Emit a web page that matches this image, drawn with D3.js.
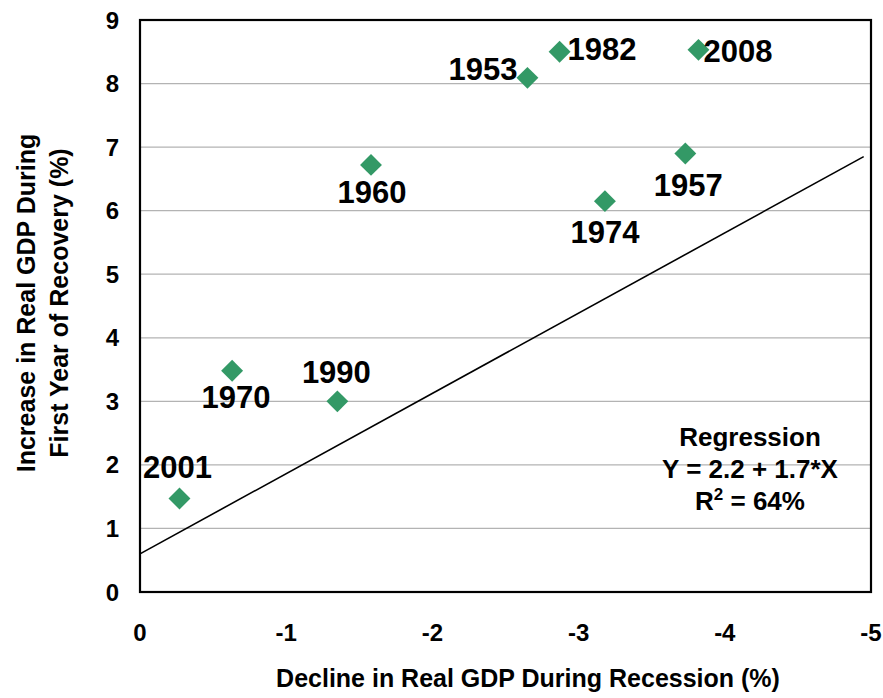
<!DOCTYPE html>
<html><head><meta charset="utf-8">
<script src="https://cdn.jsdelivr.net/npm/d3@7"></script>
<style>body{margin:0;background:#fff}svg{font-family:"Liberation Sans",Arial,sans-serif;font-weight:bold}</style>
</head><body>
<svg id="c" width="883" height="698"></svg>
<script>
const years = ["2001","1970","1990","1960","1953","1982","1974","1957","2008"];
const declines = [-0.27,-0.63,-1.35,-1.58,-2.65,-2.87,-3.18,-3.73,-3.82];
const increases = [1.47,3.48,3.0,6.72,8.09,8.5,6.15,6.90,8.53];
const xTicks = [0,-1,-2,-3,-4,-5];
const yTicks = [0,1,2,3,4,5,6,7,8,9];
const fitLineX = [0,-4.95];
const fitLineY = [0.6,6.85];
const regressionText = ["Regression","Y = 2.2 + 1.7*X"];
// label offsets (styling)
const labelOffsets = {"2001":[-2,-21,"middle"],"1970":[4,37,"middle"],"1990":[-1,-18,"middle"],"1960":[1,38,"middle"],
  "1953":[-10,2,"end"],"1982":[8,8,"start"],"1974":[0,42,"middle"],"1957":[3,43,"middle"],"2008":[5,12,"start"]};

const svg = d3.select("#c");
const m = {l:140,t:20,r:871,b:592};
const x = d3.scaleLinear().domain([0,-5]).range([m.l,m.r]);
const y = d3.scaleLinear().domain([0,9]).range([m.b,m.t]);

svg.append("g").selectAll("line").data(yTicks.slice(1,-1)).join("line")
  .attr("x1",m.l).attr("x2",m.r).attr("y1",d=>y(d)).attr("y2",d=>y(d))
  .attr("stroke","#b3b3b3").attr("stroke-width",1.3);

svg.append("line").attr("x1",x(fitLineX[0])).attr("y1",y(fitLineY[0]))
  .attr("x2",x(fitLineX[1])).attr("y2",y(fitLineY[1])).attr("stroke","#000").attr("stroke-width",1.6);

svg.append("rect").attr("x",m.l).attr("y",m.t).attr("width",m.r-m.l).attr("height",m.b-m.t)
  .attr("fill","none").attr("stroke","#000").attr("stroke-width",2.2);

svg.append("g").selectAll("text").data(yTicks).join("text")
  .attr("x",119).attr("y",d=>y(d)+8.5).attr("text-anchor","end").attr("font-size",24).text(d=>d);
svg.append("g").selectAll("text").data(xTicks).join("text")
  .attr("x",d=>x(d)).attr("y",641).attr("text-anchor","middle").attr("font-size",24).text(d=>d===0?"0":"-"+Math.abs(d));

svg.append("text").attr("x",528).attr("y",687).attr("text-anchor","middle").attr("font-size",25)
  .text("Decline in Real GDP During Recession (%)");
const yt = svg.append("text").attr("transform","translate(0,303) rotate(-90)").attr("text-anchor","middle").attr("font-size",25);
yt.append("tspan").attr("x",0).attr("y",35).text("Increase in Real GDP During");
yt.append("tspan").attr("x",0).attr("y",68).text("First Year of Recovery (%)");

const pts = years.map((yr,i)=>({yr,xv:declines[i],yv:increases[i]}));
svg.append("g").selectAll("path").data(pts).join("path")
  .attr("d",d3.symbol().type(d3.symbolSquare).size(240))
  .attr("transform",d=>`translate(${x(d.xv)},${y(d.yv)}) rotate(45)`)
  .attr("fill","#339966");
svg.append("g").selectAll("text").data(pts).join("text")
  .attr("x",d=>x(d.xv)+labelOffsets[d.yr][0]).attr("y",d=>y(d.yv)+labelOffsets[d.yr][1])
  .attr("text-anchor",d=>labelOffsets[d.yr][2]).attr("font-size",31).text(d=>d.yr);

const rg = svg.append("g").attr("font-size",26).attr("text-anchor","middle");
rg.append("text").attr("x",750).attr("y",446).text(regressionText[0]);
rg.append("text").attr("x",750).attr("y",478).text(regressionText[1]);
const r2 = rg.append("text").attr("x",750).attr("y",510);
r2.append("tspan").text("R");
r2.append("tspan").attr("font-size",17).attr("dy",-10).text("2");
r2.append("tspan").attr("dy",10).text(" = 64%");
</script>
</body></html>
